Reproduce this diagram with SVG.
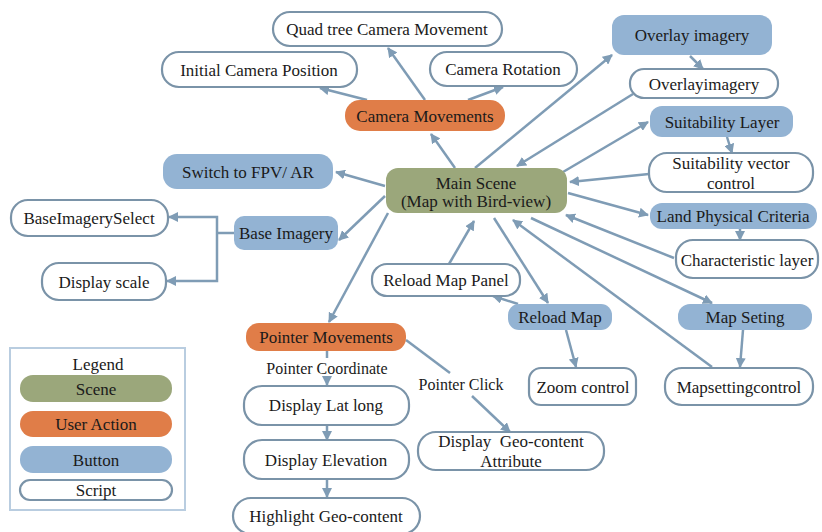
<svg xmlns="http://www.w3.org/2000/svg" width="822" height="532" viewBox="0 0 822 532" font-family="Liberation Serif, Times New Roman, Times, serif" font-size="17">
<defs>
<marker id="ah" viewBox="0 0 10 10" refX="9" refY="5" markerWidth="4" markerHeight="4" orient="auto-start-reverse" markerUnits="strokeWidth">
<path d="M0,0 L10,5 L0,10 z" fill="#7f9cb5"/>
</marker>
<style>
text{fill:#1a1a1a;text-anchor:middle;dominant-baseline:central}
.lbl{font-size:16px}
.w{fill:#fff;stroke:#7a93a8;stroke-width:2.2}
.b{fill:#93b3d3}
.o{fill:#e07d48}
.g{fill:#9ba77b}
.c line,.c path{stroke:#7f9cb5;stroke-width:2.5;fill:none}
.a{marker-end:url(#ah)}
</style>
</defs>
<rect width="822" height="532" fill="#fff"/>
<g class="c" id="connectors">
<line class="a" x1="455" y1="168" x2="431" y2="134"/>
<line class="a" x1="367" y1="100" x2="320" y2="88"/>
<line class="a" x1="425" y1="100" x2="388" y2="48"/>
<line class="a" x1="468" y1="100" x2="503" y2="87"/>
<line class="a" x1="475" y1="168" x2="612" y2="55"/>
<line class="a" x1="633" y1="94" x2="517" y2="166"/>
<line class="a" x1="690" y1="56" x2="703" y2="69"/>
<line class="a" x1="563" y1="172" x2="648" y2="122"/>
<line class="a" x1="727" y1="137" x2="732" y2="153"/>
<line class="a" x1="649" y1="174" x2="570" y2="182"/>
<line class="a" x1="568" y1="193" x2="648" y2="215"/>
<line class="a" x1="740" y1="229" x2="740" y2="240"/>
<line class="a" x1="674" y1="258" x2="566" y2="215"/>
<line class="a" x1="531" y1="218" x2="712" y2="303"/>
<line class="a" x1="743" y1="330" x2="740" y2="367"/>
<line class="a" x1="712" y1="367" x2="513" y2="220"/>
<line class="a" x1="494" y1="218" x2="548" y2="303"/>
<line class="a" x1="518" y1="304" x2="493" y2="296"/>
<line class="a" x1="449" y1="264" x2="474" y2="221"/>
<line class="a" x1="566" y1="330" x2="576" y2="367"/>
<line class="a" x1="385" y1="186" x2="336" y2="172"/>
<line class="a" x1="385" y1="196" x2="339" y2="240"/>
<line class="a" x1="388" y1="213" x2="329" y2="322"/>
<line x1="234" y1="233" x2="217" y2="233"/>
<path class="a" d="M217,233 V217 H169"/>
<path class="a" d="M217,233 V281 H167"/>
<line x1="327" y1="351" x2="327" y2="358"/>
<line class="a" x1="327" y1="378" x2="327" y2="385"/>
<line class="a" x1="327" y1="425" x2="327" y2="440"/>
<line class="a" x1="327" y1="479" x2="327" y2="497"/>
<line x1="406" y1="340" x2="450" y2="373"/>
<line class="a" x1="472" y1="396" x2="510" y2="432"/>
</g>
<g id="quad"><rect class="w" x="273" y="12" width="229" height="34" rx="17"/><text x="387" y="29">Quad tree Camera Movement</text></g>
<g id="initcam"><rect class="w" x="162" y="52" width="195" height="35" rx="17"/><text x="259" y="70">Initial Camera Position</text></g>
<g id="camrot"><rect class="w" x="430" y="52" width="147" height="34" rx="17"/><text x="503" y="69">Camera Rotation</text></g>
<g id="cammov"><rect class="o" x="345" y="100" width="160" height="31" rx="15"/><text x="425" y="116">Camera Movements</text></g>
<g id="overlaybtn"><rect class="b" x="612" y="15" width="160" height="40" rx="12"/><text x="692" y="35">Overlay imagery</text></g>
<g id="overlayscr"><rect class="w" x="630" y="69" width="148" height="29" rx="14"/><text x="704" y="84">Overlayimagery</text></g>
<g id="suitbtn"><rect class="b" x="650" y="106" width="143" height="31" rx="12"/><text x="722" y="122">Suitability Layer</text></g>
<g id="suitscr"><rect class="w" x="649" y="153" width="164" height="39" rx="18"/><text x="731" y="163">Suitability vector</text><text x="731" y="183">control</text></g>
<g id="main"><rect class="g" x="386" y="168" width="181" height="45" rx="12"/><text x="476" y="183">Main Scene</text><text x="476" y="201">(Map with Bird-view)</text></g>
<g id="fpv"><rect class="b" x="163" y="154" width="170" height="35" rx="14"/><text x="248" y="172">Switch to FPV/ AR</text></g>
<g id="baseselect"><rect class="w" x="11" y="200" width="157" height="36" rx="17"/><text x="89" y="218">BaseImagerySelect</text></g>
<g id="basebtn"><rect class="b" x="234" y="216" width="104" height="34" rx="10"/><text x="286" y="233">Base Imagery</text></g>
<g id="scale"><rect class="w" x="42" y="263" width="124" height="37" rx="17"/><text x="104" y="282">Display scale</text></g>
<g id="landbtn"><rect class="b" x="650" y="203" width="167" height="26" rx="12"/><text x="733" y="216">Land Physical Criteria</text></g>
<g id="charlayer"><rect class="w" x="676" y="240" width="142" height="38" rx="17"/><text x="747" y="260">Characteristic layer</text></g>
<g id="reloadpanel"><rect class="w" x="372" y="264" width="148" height="32" rx="15"/><text x="446" y="280">Reload Map Panel</text></g>
<g id="reloadbtn"><rect class="b" x="508" y="304" width="104" height="26" rx="11"/><text x="560" y="317">Reload Map</text></g>
<g id="mapsetbtn"><rect class="b" x="678" y="304" width="134" height="26" rx="12"/><text x="745" y="317">Map Seting</text></g>
<g id="pointer"><rect class="o" x="246" y="323" width="160" height="28" rx="13"/><text x="326" y="337">Pointer Movements</text></g>
<g id="pcoord"><text class="lbl" x="327" y="368">Pointer Coordinate</text></g>
<g id="latlong"><rect class="w" x="244" y="386" width="165" height="39" rx="18"/><text x="326" y="405">Display Lat long</text></g>
<g id="elev"><rect class="w" x="244" y="440" width="165" height="39" rx="18"/><text x="326" y="460">Display Elevation</text></g>
<g id="highlight"><rect class="w" x="233" y="498" width="187" height="36" rx="18"/><text x="326" y="516">Highlight Geo-content</text></g>
<g id="pclick"><text class="lbl" x="461" y="384">Pointer Click</text></g>
<g id="geoattr"><rect class="w" x="418" y="432" width="186" height="38" rx="18"/><text x="511" y="441" xml:space="preserve">Display  Geo-content</text><text x="511" y="461">Attribute</text></g>
<g id="zoom"><rect class="w" x="529" y="368" width="107" height="37" rx="12"/><text x="583" y="387">Zoom control</text></g>
<g id="mapsetscr"><rect class="w" x="665" y="368" width="148" height="37" rx="17"/><text x="739" y="387">Mapsettingcontrol</text></g>
<g id="legend">
<rect x="10" y="348" width="175" height="162" fill="#fff" stroke="#b9cde0" stroke-width="2"/>
<text x="98" y="364">Legend</text>
<rect class="g" x="20" y="375" width="152" height="27" rx="13"/><text x="96" y="389">Scene</text>
<rect class="o" x="20" y="411" width="152" height="26" rx="13"/><text x="96" y="424">User Action</text>
<rect class="b" x="20" y="446" width="152" height="27" rx="13"/><text x="96" y="460">Button</text>
<rect class="w" x="20" y="480" width="152" height="20" rx="10"/><text x="96" y="490">Script</text>
</g>
</svg>
